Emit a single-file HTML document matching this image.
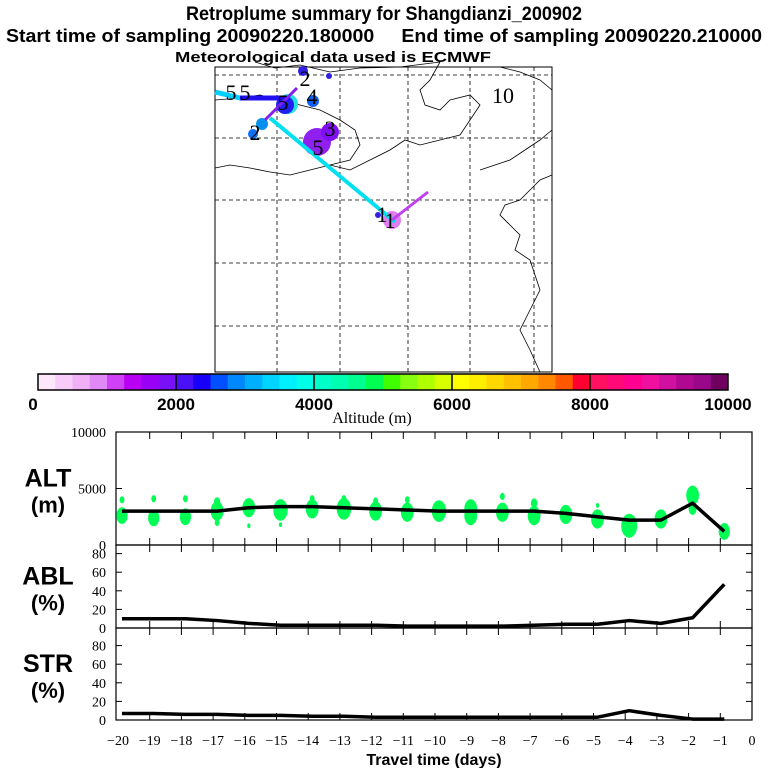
<!DOCTYPE html>
<html><head><meta charset="utf-8"><style>
html,body{margin:0;padding:0;background:#fff;width:768px;height:768px;overflow:hidden}
svg{display:block}
.t{font-family:"Liberation Sans",sans-serif;font-weight:bold;fill:#000}
.s{font-family:"Liberation Serif",serif;fill:#000}
</style></head><body>
<svg id="svg" width="768" height="768" viewBox="0 0 768 768" xmlns="http://www.w3.org/2000/svg">
<text class="t" x="384" y="20" font-size="19" text-anchor="middle" textLength="396" lengthAdjust="spacingAndGlyphs">Retroplume summary for Shangdianzi_200902</text>
<text class="t" x="384" y="42" font-size="18" text-anchor="middle" textLength="756" lengthAdjust="spacingAndGlyphs" style="white-space:pre">Start time of sampling 20090220.180000&#160;&#160;&#160;&#160;&#160;End time of sampling 20090220.210000</text>
<text class="t" x="333" y="62" font-size="15" text-anchor="middle" textLength="316" lengthAdjust="spacingAndGlyphs">Meteorological data used is ECMWF</text>
<g id="map">
<rect x="215" y="67" width="337" height="305" fill="none" stroke="#000" stroke-width="1"/>
</g>
<g id="cbar"></g>
<text class="s" x="372" y="423" font-size="16" text-anchor="middle">Altitude (m)</text>
<g id="panels"></g>
<text class="t" x="434" y="765" font-size="16" text-anchor="middle">Travel time (days)</text>
</svg>
<script>
const days=[-20,-19,-18,-17,-16,-15,-14,-13,-12,-11,-10,-9,-8,-7,-6,-5,-4,-3,-2,-1];
const altMean=[3000,3000,3000,3000,3300,3400,3400,3300,3200,3100,3000,3000,3000,3000,2800,2500,2200,2200,3700,1200];
const ablPct=[10,10,10,8,5,3,3,3,3,2,2,2,2,3,4,4,8,5,11,47];
const strPct=[7,7,6,6,5,5,4,4,3,3,3,3,3,3,3,3,10,5,1,1];
const blobDays=[-20,-20,-19,-19,-18,-18,-17,-17,-17,-16,-16,-15,-15,-14,-14,-13,-13,-12,-12,-11,-11,-10,-9,-9,-8,-8,-7,-7,-6,-5,-5,-4,-3,-2,-2,-1];
const blobAlt=[2600,4000,2400,4100,2500,4100,3000,3800,2000,3300,1700,3100,1800,3200,4100,3200,4100,3000,3900,2900,4000,3000,2600,3200,2900,4300,2600,3700,2700,2300,3500,1700,2300,4400,3200,1200];
const blobR=[7,3,7,3,7,3,8,4,3,8,2,9,2,8,3,9,3,8,3,8,3,9,8,8,8,3,8,4,8,8,2,10,8,8,5,7];
const ns="http://www.w3.org/2000/svg";
const svg=document.getElementById('svg');
function mk(tag,attrs,parent){const e=document.createElementNS(ns,tag);for(const k in attrs)e.setAttribute(k,attrs[k]);(parent||svg).appendChild(e);return e;}
const X0=118,X1=752;
function xs(t){return X0+(t+20)*(X1-X0)/20;}
const pg=document.getElementById('panels');
const panels=[
 {name:'alt',top:432,bot:545,max:10000,ticks:[0,5000,10000],lab:['ALT','(m)'],data:altMean},
 {name:'abl',top:535,bot:628,max:100,ticks:[0,20,40,60,80],lab:['ABL','(%)'],data:ablPct},
 {name:'str',top:627,bot:720,max:100,ticks:[0,20,40,60,80],lab:['STR','(%)'],data:strPct}];
panels.forEach((p,pi)=>{
 const g=mk('g',{},pg);
 
 
 const ys=v=>p.bot-(v/p.max)*(p.bot-p.top);
 const top=pi==0?432:(pi==1?545:628);
 const r=mk('rect',{x:116,y:top,width:636,height:p.bot-top,fill:'none',stroke:'#000','stroke-width':1.2},g);
 
 for(let t=-19;t<=-1;t++){const x=xs(t);
  const a=mk('line',{x1:x,x2:x,y1:top,y2:top+7,stroke:'#000'},g);
  const b=mk('line',{x1:x,x2:x,y1:p.bot,y2:p.bot-7,stroke:'#000'},g);}
 p.ticks.forEach(v=>{const y=ys(v);
  if(v>0&&v<p.max){mk('line',{x1:116,x2:122,y1:y,y2:y,stroke:'#000'},g);mk('line',{x1:752,x2:746,y1:y,y2:y,stroke:'#000'},g);}
  const tx=mk('text',{x:106,y:y+5,'font-size':14,'text-anchor':'end',class:'s'},g);tx.textContent=v;
  });
 const mid=(top+p.bot)/2;
 const l1=mk('text',{x:48,y:mid-2,'font-size':25,'text-anchor':'middle',class:'t'},g);l1.textContent=p.lab[0];
 
 const l2=mk('text',{x:48,y:mid+24,'font-size':22,'text-anchor':'middle',class:'t'},g);l2.textContent=p.lab[1];
 
 if(pi==0){blobDays.forEach((d,i)=>{const e=mk('ellipse',{cx:xs(d)+4,cy:ys(blobAlt[i]),rx:blobR[i]*0.8,ry:blobR[i]*1.2,fill:'#00ff55'},g);
  });}
 const pts=days.map((d,i)=>(xs(d)+4)+','+ys(p.data[i])).join(' ');
 const pl=mk('polyline',{points:pts,fill:'none',stroke:'#000','stroke-width':3.5,'stroke-linejoin':'round'},g);
 
});
for(let t=-20;t<=0;t++){const tx=mk('text',{x:xs(t),y:745,'font-size':14,'text-anchor':'middle',class:'s'});tx.textContent=t==0?'0':'\u2212'+(-t);
 }
const cbColors=['#fde8fb','#f8ccf8','#f0b0f5','#e088f5','#d040f5','#b800f5','#9900f5','#7a10f5','#4a10f8','#1800f8','#0050ff','#0088ff','#00b0ff','#00d4ff','#00f0ff','#00ffe8','#00ffc8','#00ffb0','#00ff90','#00ff50','#40ff00','#88ff10','#b0ff00','#d8ff00','#ffff00','#ffee00','#ffd800','#ffc000','#ffa800','#ff8800','#ff5800','#ff0030','#ff1060','#ff0878','#ff0090','#f010a0','#d010a0','#b00890','#980888','#700060'];
const cg=document.getElementById('cbar');
const cw=(728-38)/cbColors.length;
cbColors.forEach((c,i)=>{const r=mk('rect',{x:38+i*cw,y:374,width:cw+0.4,height:16,fill:c},cg);
 });
mk('rect',{x:38,y:374,width:690,height:16,fill:'none',stroke:'#000','stroke-width':1.5},cg);
[0,2000,4000,6000,8000,10000].forEach((v,i)=>{const x=38+v/10000*690;
 if(i>0&&i<5)mk('line',{x1:x,x2:x,y1:374,y2:390,stroke:'#000','stroke-width':1.5},cg);
 const tx=mk('text',{x:i==0?33:x,y:410,'font-size':17,'text-anchor':'middle',class:'t'},cg);tx.textContent=v;
 });
const mg=document.getElementById('map');
[277,340,408,470,534].forEach(x=>mk('line',{x1:x,x2:x,y1:67,y2:372,stroke:'#000','stroke-dasharray':'4,3','stroke-width':0.8},mg));
[75,138,200,263,326].forEach(y=>mk('line',{x1:215,x2:552,y1:y,y2:y,stroke:'#000','stroke-dasharray':'4,3','stroke-width':0.8},mg));
const coast=['M255,62 L275,68 L300,65 L330,72 L360,68 L400,67 L440,62','M440,62 L430,80 L420,90 L425,105 L440,110 L450,100 L470,95 L480,105 L470,120 L460,135 L440,140 L420,145 L405,140 L390,150 L370,160 L350,170 L330,165 L310,170 L290,175 L270,172 L250,168 L230,165 L215,168','M215,100 L240,98 L260,95 L280,100 L300,105 L320,110 L340,120 L355,130 L360,145 L350,160 L330,165','M500,67 L520,72 L540,80 L552,90','M552,175 L540,180 L530,190 L520,200 L505,205 L500,215 L510,225 L520,235 L515,250 L530,260 L540,290 L530,310 L520,330 L530,350 L540,372','M552,130 L540,140 L525,150 L510,160 L495,165 L480,170'];
coast.forEach(d=>{const p=mk('path',{d:d,fill:'none',stroke:'#000','stroke-width':0.8},mg);});
const blobs=[[303,71,5,'#3020e0'],[329,76,3,'#3020e0'],[313,101,6,'#1060f0'],[288,104,10,'#20e0e0'],[285,105,9,'#2020f0'],[262,124,6,'#0090f0'],[253,134,5,'#1070f0'],[317,142,14,'#9020f0'],[330,132,9,'#8010f0'],[392,220,9,'#e080f0'],[378,215,3,'#3020e0']];
blobs.forEach(b=>{const c=mk('circle',{cx:b[0],cy:b[1],r:b[2],fill:b[3]},mg);});
const tr=[['M215,92 L240,98 L290,98','#00d0ff',5],['M240,98 L290,98','#2010f0',5],['M265,120 L275,110 L297,88','#8020f0',3],['M270,118 L395,222','#00e0f0',4],['M392,220 L428,192','#c040f0',3]];
tr.forEach(t=>{const p=mk('path',{d:t[0],fill:'none',stroke:t[1],'stroke-width':t[2]},mg);});
[[231,100,'5'],[245,100,'5'],[283,110,'5'],[318,155,'5'],[330,136,'3'],[305,86,'2'],[312,104,'4'],[255,140,'2'],[390,228,'1'],[382,222,'1']].forEach(l=>{const t=mk('text',{x:l[0],y:l[1],'font-size':22,'text-anchor':'middle',class:'s'},mg);t.textContent=l[2];
 });
const tn=mk('text',{x:503,y:103,'font-size':22,'text-anchor':'middle',class:'s'},mg);tn.textContent='10';

</script>
</body></html>
